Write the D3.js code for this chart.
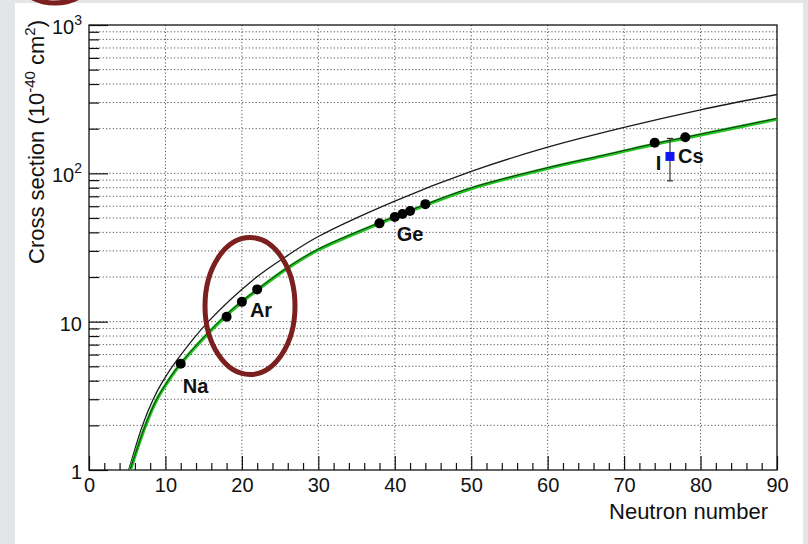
<!DOCTYPE html>
<html>
<head>
<meta charset="utf-8">
<style>
    body { margin: 0; background: #e4e5e7; }
    svg { display: block; }
    text { font-family: "Liberation Sans", Arial, sans-serif; fill: #111; }
    .grid line { stroke: #555; stroke-width: 1; stroke-dasharray: 1.2,2.2; }
    .axis path { display: none; }
    .axis line { stroke: #111; stroke-width: 1.2; }
    .lbl { font-weight: bold; font-size: 20px; }
</style>
</head>
<body>
<svg class="chart" width="808" height="544"></svg>
<script src="https://d3js.org/d3.v7.min.js"></script>
<script>
    // values
    var blackN     = [5.2, 7, 8.4, 9.7, 11.5, 15.6, 21.5, 26, 30, 40, 50, 60, 70, 80, 90];
    var blackSigma = [1, 2, 3, 4, 5.5, 10, 19.2, 28, 37.5, 65, 103, 150, 204, 268, 340];

    var greenN     = [5.4, 7.4, 8.9, 10.4, 12, 17.1, 20, 22, 26, 30, 38, 44, 50, 60, 67, 70, 74, 78, 90];
    var greenSigma = [1, 2, 3, 4, 5.2, 10, 13.6, 16.3, 23, 30.5, 46, 61, 79, 108, 130, 141, 157, 173, 232];

    var isoName  = ["Na", "Ar", "Ar", "Ar", "Ge", "Ge", "Ge", "Ge", "Ge", "I", "Cs"];
    var isoN     = [12, 18, 20, 22, 38, 40, 41, 42, 44, 74, 78];
    var isoSigma = [5.2, 10.8, 13.6, 16.5, 46, 50.8, 53.2, 55.8, 62, 161, 175];

    var measN = [76];
    var measSigma = [130];
    var measLow = [89];
    var measHigh = [172];

    var xTicks = d3.range(0, 91, 2);
    var yLabels = [1, 10, 100, 1000];

    var plotL = 89, plotR = 777, plotT = 25, plotB = 470;

    var svg = d3.select('.chart');

    svg.append('rect')
        .attr('x', 15).attr('y', 3)
        .attr('width', 788).attr('height', 541)
        .style('fill', '#fff');

    var x = d3.scaleLinear().domain([0, 90]).range([plotL, plotR]);
    var y = d3.scaleLog().domain([1, 1000]).range([plotB, plotT]);

    // grid
    var grid = svg.append('g').attr('class', 'grid');
    grid.selectAll('.gy')
        .data(y.ticks().filter(function(d) { return d > 1 && d < 1000; }))
        .enter().append('line')
        .attr('x1', plotL).attr('x2', plotR)
        .attr('y1', function(d) { return y(d); })
        .attr('y2', function(d) { return y(d); });
    grid.selectAll('.gx')
        .data(d3.range(10, 90, 10))
        .enter().append('line')
        .attr('y1', plotT).attr('y2', plotB)
        .attr('x1', function(d) { return x(d); })
        .attr('x2', function(d) { return x(d); });

    // x axis (ticks pointing inward)
    var xAxis = d3.axisBottom(x)
        .tickValues(xTicks)
        .tickSize(-7)
        .tickFormat(function(d) { return d % 10 === 0 ? d : ''; });
    var gx = svg.append('g').attr('class', 'axis')
        .attr('transform', 'translate(0,' + plotB + ')')
        .call(xAxis);
    gx.selectAll('.tick line').attr('y2', function(d) { return d % 10 === 0 ? -14 : -7; });
    gx.selectAll('.tick text')
        .attr('y', 8)
        .style('font-size', '20px')
        .style('font-family', '"Liberation Sans", Arial, sans-serif')
        .style('fill', '#111');

    // y axis
    var yAxis = d3.axisLeft(y)
        .tickValues(y.ticks())
        .tickSize(-10)
        .tickFormat('');
    var gy = svg.append('g').attr('class', 'axis')
        .attr('transform', 'translate(' + plotL + ',0)')
        .call(yAxis);
    gy.selectAll('.tick line').attr('x2', function(d) {
        return yLabels.indexOf(d) >= 0 ? 19 : 10;
    });

    gy.selectAll('.ylab')
        .data(yLabels)
        .enter().append('text')
        .attr('x', -7)
        .attr('y', function(d) { return y(d) + 9; })
        .style('text-anchor', 'end')
        .style('font-size', '20px')
        .each(function(d) {
            var t = d3.select(this);
            var e = Math.round(Math.log10(d));
            if (e < 2) {
                t.text(d);
            } else {
                t.append('tspan').text('10');
                t.append('tspan').attr('dy', -9).style('font-size', '14px').text(e);
            }
        });

    // frame
    svg.append('rect')
        .attr('x', plotL).attr('y', plotT)
        .attr('width', plotR - plotL).attr('height', plotB - plotT)
        .style('fill', 'none').style('stroke', '#111').style('stroke-width', 1.3);

    // axis titles
    svg.append('text')
        .attr('x', 768).attr('y', 519)
        .style('text-anchor', 'end')
        .style('font-size', '22px')
        .text('Neutron number');

    var yt = svg.append('text')
        .attr('transform', 'translate(44,20) rotate(-90)')
        .style('text-anchor', 'end')
        .style('font-size', '22px');
    yt.append('tspan').text('Cross section (10');
    yt.append('tspan').attr('dy', -9).style('font-size', '15px').text('-40');
    yt.append('tspan').attr('dy', 9).text(' cm');
    yt.append('tspan').attr('dy', -9).style('font-size', '15px').text('2');
    yt.append('tspan').attr('dy', 9).text(')');

    // curves
    svg.append('clipPath').attr('id', 'plotclip')
        .append('rect')
        .attr('x', plotL).attr('y', plotT)
        .attr('width', plotR - plotL).attr('height', plotB - plotT);

    var line = d3.line()
        .x(function(d) { return x(d[0]); })
        .y(function(d) { return y(d[1]); })
        .curve(d3.curveCatmullRom.alpha(0.5));

    var blackData = blackN.map(function(n, i) { return [n, blackSigma[i]]; });
    var greenData = greenN.map(function(n, i) { return [n, greenSigma[i]]; });

    var curves = svg.append('g').attr('clip-path', 'url(#plotclip)');
    curves.append('path').attr('d', line(blackData))
        .style('fill', 'none').style('stroke', '#1a1a1a').style('stroke-width', 1.3);
    curves.append('path').attr('d', line(greenData))
        .style('fill', 'none').style('stroke', '#1fc41f').style('stroke-width', 3.4);
    curves.append('path').attr('d', line(greenData))
        .attr('transform', 'translate(0,-0.7)')
        .style('fill', 'none').style('stroke', '#1a1a1a').style('stroke-width', 0.9);

    // isotope points
    svg.selectAll('.iso')
        .data(isoN)
        .enter().append('circle')
        .attr('cx', function(d) { return x(d); })
        .attr('cy', function(d, i) { return y(isoSigma[i]); })
        .attr('r', 5)
        .style('fill', '#000');

    // measurement with error bar
    measN.forEach(function(n, i) {
        var cx = x(n);
        var g = svg.append('g').style('stroke', '#333').style('stroke-width', 1.2);
        g.append('line').attr('x1', cx).attr('x2', cx)
            .attr('y1', y(measHigh[i])).attr('y2', y(measLow[i]));
        g.append('line').attr('x1', cx - 3).attr('x2', cx + 3)
            .attr('y1', y(measHigh[i])).attr('y2', y(measHigh[i]));
        g.append('line').attr('x1', cx - 3).attr('x2', cx + 3)
            .attr('y1', y(measLow[i])).attr('y2', y(measLow[i]));
        svg.append('rect')
            .attr('x', cx - 4.5).attr('y', y(measSigma[i]) - 4.5)
            .attr('width', 9).attr('height', 9)
            .style('fill', '#1414f0');
    });

    // isotope labels, placed next to one point of each group
    var labelSpots = [
        { name: 'Na', i: 0, dx: 2, dy: 29 },
        { name: 'Ar', i: 2, dx: 8, dy: 15 },
        { name: 'Ge', i: 5, dx: 2, dy: 24.5 },
        { name: 'I', i: 9, dx: 1, dy: 27 }
    ];
    labelSpots.forEach(function(s) {
        svg.append('text').attr('class', 'lbl')
            .attr('x', x(isoN[s.i]) + s.dx)
            .attr('y', y(isoSigma[s.i]) + s.dy)
            .text(s.name);
    });
    svg.append('text').attr('class', 'lbl')
        .attr('x', x(measN[0]) + 8)
        .attr('y', y(measSigma[0]) + 7)
        .text('Cs');

    // highlight ellipses
    svg.append('ellipse')
        .attr('cx', 250).attr('cy', 306).attr('rx', 45).attr('ry', 68.5)
        .style('fill', 'none').style('stroke', '#7b1f1f').style('stroke-width', 5);
    svg.append('ellipse')
        .attr('cx', 55).attr('cy', -27).attr('rx', 40).attr('ry', 30)
        .style('fill', 'none').style('stroke', '#7b1f1f').style('stroke-width', 5);
</script>
</body>
</html>
